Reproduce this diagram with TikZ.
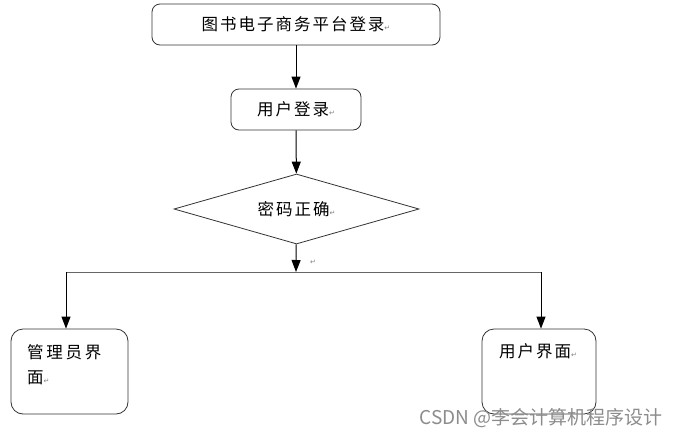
\documentclass[tikz,border=0pt]{standalone}
\usepackage{fontspec}
\setmainfont{Noto Sans CJK SC}
\newfontfamily\cjk[LetterSpace=12]{Noto Sans CJK SC}
\newfontfamily\symb{DejaVu Sans}
\usetikzlibrary{shapes.geometric, arrows.meta, positioning}
\newcommand{\parmark}{{\symb\fontsize{7}{7}\selectfont\color{gray}↵}}

\begin{document}
\begin{tikzpicture}[x=1pt, y=-1pt,
                    font=\cjk\fontsize{16.5}{25}\selectfont,
                    box/.style={draw=black!80, rounded corners=8pt, fill=white, line width=0.8pt},
                    arr/.style={-{Triangle[length=12pt,width=9pt]}, line width=1pt}]
      \useasboundingbox (0,0) rectangle (685,437);
      % login flow
      \node (title) [box, minimum width=288pt, minimum height=41pt] at (296,24.5) {图书电子商务平台登录\parmark};
      \node (login) [box, minimum width=130pt, minimum height=41pt] at (296,109.5) {用户登录\parmark};
      \node (check) [diamond, aspect=3.5, draw=black!80, line width=0.8pt, minimum width=245pt, minimum height=70pt, inner sep=0pt] at (296.5,209) {密码正确\parmark};
      \draw[arr] (title) -- (login);
      \draw[arr] (login) -- (check);

      % branch to the two pages
      \coordinate (split) at (296,272);
      \coordinate (leftend) at (66,272);
      \coordinate (rightend) at (541,272);
      \node (mark) at (313,262) {\parmark};
      \draw[arr] (check) -- (split);
      \draw[draw=black!60, line width=1pt] (leftend) -- (rightend);

      % admin page
      \node (admin) [box, rounded corners=12pt, minimum width=117pt, minimum height=85pt] at (69.5,371.5) {};
      \node (admintext) [anchor=north west, inner sep=0pt, align=left] at (27,344) {管\,理\,员\,界\\面\parmark};
      % user page
      \node (user) [box, rounded corners=12pt, minimum width=114pt, minimum height=85pt] at (539,371.5) {};
      \node (usertext) [anchor=north west, inner sep=0pt] at (499,343) {用户界面\parmark};
      \draw[arr] (leftend) -- (leftend |- admin.north);
      \draw[arr] (rightend) -- (rightend |- user.north);

      \node (watermark) [anchor=west, text=black!45, font=\normalfont\fontsize{19}{19}\selectfont] at (416,418) {CSDN @李会计算机程序设计};
    \end{tikzpicture}
\end{document}
